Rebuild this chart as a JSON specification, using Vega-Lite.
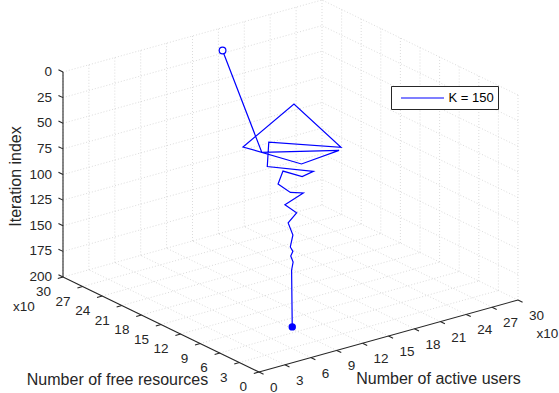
{
  "$schema": "https://vega.github.io/schema/vega-lite/v6.json",
  "width": 559,
  "height": 393,
  "autosize": {"type": "none"},
  "padding": 0,
  "background": "#ffffff",
  "config": {
    "view": {"stroke": null},
    "text": {"font": "Liberation Sans", "color": "#262626"}
  },
  "datasets": {
    "frame": [
      {"k": "grid", "u0": 0, "r0": 300, "i0": 0, "u1": 300, "r1": 300, "i1": 0},
      {"k": "grid", "u0": 0, "r0": 300, "i0": 25, "u1": 300, "r1": 300, "i1": 25},
      {"k": "grid", "u0": 0, "r0": 300, "i0": 50, "u1": 300, "r1": 300, "i1": 50},
      {"k": "grid", "u0": 0, "r0": 300, "i0": 75, "u1": 300, "r1": 300, "i1": 75},
      {"k": "grid", "u0": 0, "r0": 300, "i0": 100, "u1": 300, "r1": 300, "i1": 100},
      {"k": "grid", "u0": 0, "r0": 300, "i0": 125, "u1": 300, "r1": 300, "i1": 125},
      {"k": "grid", "u0": 0, "r0": 300, "i0": 150, "u1": 300, "r1": 300, "i1": 150},
      {"k": "grid", "u0": 0, "r0": 300, "i0": 175, "u1": 300, "r1": 300, "i1": 175},
      {"k": "grid", "u0": 0, "r0": 300, "i0": 200, "u1": 300, "r1": 300, "i1": 200},
      {"k": "grid", "u0": 0, "r0": 300, "i0": 0, "u1": 0, "r1": 300, "i1": 200},
      {"k": "grid", "u0": 30, "r0": 300, "i0": 0, "u1": 30, "r1": 300, "i1": 200},
      {"k": "grid", "u0": 60, "r0": 300, "i0": 0, "u1": 60, "r1": 300, "i1": 200},
      {"k": "grid", "u0": 90, "r0": 300, "i0": 0, "u1": 90, "r1": 300, "i1": 200},
      {"k": "grid", "u0": 120, "r0": 300, "i0": 0, "u1": 120, "r1": 300, "i1": 200},
      {"k": "grid", "u0": 150, "r0": 300, "i0": 0, "u1": 150, "r1": 300, "i1": 200},
      {"k": "grid", "u0": 180, "r0": 300, "i0": 0, "u1": 180, "r1": 300, "i1": 200},
      {"k": "grid", "u0": 210, "r0": 300, "i0": 0, "u1": 210, "r1": 300, "i1": 200},
      {"k": "grid", "u0": 240, "r0": 300, "i0": 0, "u1": 240, "r1": 300, "i1": 200},
      {"k": "grid", "u0": 270, "r0": 300, "i0": 0, "u1": 270, "r1": 300, "i1": 200},
      {"k": "grid", "u0": 300, "r0": 300, "i0": 0, "u1": 300, "r1": 300, "i1": 200},
      {"k": "grid", "u0": 300, "r0": 0, "i0": 0, "u1": 300, "r1": 300, "i1": 0},
      {"k": "grid", "u0": 300, "r0": 0, "i0": 25, "u1": 300, "r1": 300, "i1": 25},
      {"k": "grid", "u0": 300, "r0": 0, "i0": 50, "u1": 300, "r1": 300, "i1": 50},
      {"k": "grid", "u0": 300, "r0": 0, "i0": 75, "u1": 300, "r1": 300, "i1": 75},
      {"k": "grid", "u0": 300, "r0": 0, "i0": 100, "u1": 300, "r1": 300, "i1": 100},
      {"k": "grid", "u0": 300, "r0": 0, "i0": 125, "u1": 300, "r1": 300, "i1": 125},
      {"k": "grid", "u0": 300, "r0": 0, "i0": 150, "u1": 300, "r1": 300, "i1": 150},
      {"k": "grid", "u0": 300, "r0": 0, "i0": 175, "u1": 300, "r1": 300, "i1": 175},
      {"k": "grid", "u0": 300, "r0": 0, "i0": 200, "u1": 300, "r1": 300, "i1": 200},
      {"k": "grid", "u0": 300, "r0": 0, "i0": 0, "u1": 300, "r1": 0, "i1": 200},
      {"k": "grid", "u0": 300, "r0": 30, "i0": 0, "u1": 300, "r1": 30, "i1": 200},
      {"k": "grid", "u0": 300, "r0": 60, "i0": 0, "u1": 300, "r1": 60, "i1": 200},
      {"k": "grid", "u0": 300, "r0": 90, "i0": 0, "u1": 300, "r1": 90, "i1": 200},
      {"k": "grid", "u0": 300, "r0": 120, "i0": 0, "u1": 300, "r1": 120, "i1": 200},
      {"k": "grid", "u0": 300, "r0": 150, "i0": 0, "u1": 300, "r1": 150, "i1": 200},
      {"k": "grid", "u0": 300, "r0": 180, "i0": 0, "u1": 300, "r1": 180, "i1": 200},
      {"k": "grid", "u0": 300, "r0": 210, "i0": 0, "u1": 300, "r1": 210, "i1": 200},
      {"k": "grid", "u0": 300, "r0": 240, "i0": 0, "u1": 300, "r1": 240, "i1": 200},
      {"k": "grid", "u0": 300, "r0": 270, "i0": 0, "u1": 300, "r1": 270, "i1": 200},
      {"k": "grid", "u0": 0, "r0": 0, "i0": 200, "u1": 0, "r1": 300, "i1": 200},
      {"k": "grid", "u0": 30, "r0": 0, "i0": 200, "u1": 30, "r1": 300, "i1": 200},
      {"k": "grid", "u0": 60, "r0": 0, "i0": 200, "u1": 60, "r1": 300, "i1": 200},
      {"k": "grid", "u0": 90, "r0": 0, "i0": 200, "u1": 90, "r1": 300, "i1": 200},
      {"k": "grid", "u0": 120, "r0": 0, "i0": 200, "u1": 120, "r1": 300, "i1": 200},
      {"k": "grid", "u0": 150, "r0": 0, "i0": 200, "u1": 150, "r1": 300, "i1": 200},
      {"k": "grid", "u0": 180, "r0": 0, "i0": 200, "u1": 180, "r1": 300, "i1": 200},
      {"k": "grid", "u0": 210, "r0": 0, "i0": 200, "u1": 210, "r1": 300, "i1": 200},
      {"k": "grid", "u0": 240, "r0": 0, "i0": 200, "u1": 240, "r1": 300, "i1": 200},
      {"k": "grid", "u0": 270, "r0": 0, "i0": 200, "u1": 270, "r1": 300, "i1": 200},
      {"k": "grid", "u0": 0, "r0": 30, "i0": 200, "u1": 300, "r1": 30, "i1": 200},
      {"k": "grid", "u0": 0, "r0": 60, "i0": 200, "u1": 300, "r1": 60, "i1": 200},
      {"k": "grid", "u0": 0, "r0": 90, "i0": 200, "u1": 300, "r1": 90, "i1": 200},
      {"k": "grid", "u0": 0, "r0": 120, "i0": 200, "u1": 300, "r1": 120, "i1": 200},
      {"k": "grid", "u0": 0, "r0": 150, "i0": 200, "u1": 300, "r1": 150, "i1": 200},
      {"k": "grid", "u0": 0, "r0": 180, "i0": 200, "u1": 300, "r1": 180, "i1": 200},
      {"k": "grid", "u0": 0, "r0": 210, "i0": 200, "u1": 300, "r1": 210, "i1": 200},
      {"k": "grid", "u0": 0, "r0": 240, "i0": 200, "u1": 300, "r1": 240, "i1": 200},
      {"k": "grid", "u0": 0, "r0": 270, "i0": 200, "u1": 300, "r1": 270, "i1": 200},
      {"k": "axis", "u0": 0, "r0": 300, "i0": 0, "u1": 0, "r1": 300, "i1": 200},
      {"k": "axis", "u0": 0, "r0": 0, "i0": 200, "u1": 0, "r1": 300, "i1": 200},
      {"k": "axis", "u0": 0, "r0": 0, "i0": 200, "u1": 300, "r1": 0, "i1": 200},
      {"k": "tick", "u0": 0, "r0": 0, "i0": 200, "u1": 0, "r1": -7, "i1": 200},
      {"k": "tick", "u0": 30, "r0": 0, "i0": 200, "u1": 30, "r1": -7, "i1": 200},
      {"k": "tick", "u0": 60, "r0": 0, "i0": 200, "u1": 60, "r1": -7, "i1": 200},
      {"k": "tick", "u0": 90, "r0": 0, "i0": 200, "u1": 90, "r1": -7, "i1": 200},
      {"k": "tick", "u0": 120, "r0": 0, "i0": 200, "u1": 120, "r1": -7, "i1": 200},
      {"k": "tick", "u0": 150, "r0": 0, "i0": 200, "u1": 150, "r1": -7, "i1": 200},
      {"k": "tick", "u0": 180, "r0": 0, "i0": 200, "u1": 180, "r1": -7, "i1": 200},
      {"k": "tick", "u0": 210, "r0": 0, "i0": 200, "u1": 210, "r1": -7, "i1": 200},
      {"k": "tick", "u0": 240, "r0": 0, "i0": 200, "u1": 240, "r1": -7, "i1": 200},
      {"k": "tick", "u0": 270, "r0": 0, "i0": 200, "u1": 270, "r1": -7, "i1": 200},
      {"k": "tick", "u0": 300, "r0": 0, "i0": 200, "u1": 300, "r1": -7, "i1": 200},
      {"k": "tick", "u0": 0, "r0": 0, "i0": 200, "u1": -6, "r1": 0, "i1": 200},
      {"k": "tick", "u0": 0, "r0": 30, "i0": 200, "u1": -6, "r1": 30, "i1": 200},
      {"k": "tick", "u0": 0, "r0": 60, "i0": 200, "u1": -6, "r1": 60, "i1": 200},
      {"k": "tick", "u0": 0, "r0": 90, "i0": 200, "u1": -6, "r1": 90, "i1": 200},
      {"k": "tick", "u0": 0, "r0": 120, "i0": 200, "u1": -6, "r1": 120, "i1": 200},
      {"k": "tick", "u0": 0, "r0": 150, "i0": 200, "u1": -6, "r1": 150, "i1": 200},
      {"k": "tick", "u0": 0, "r0": 180, "i0": 200, "u1": -6, "r1": 180, "i1": 200},
      {"k": "tick", "u0": 0, "r0": 210, "i0": 200, "u1": -6, "r1": 210, "i1": 200},
      {"k": "tick", "u0": 0, "r0": 240, "i0": 200, "u1": -6, "r1": 240, "i1": 200},
      {"k": "tick", "u0": 0, "r0": 270, "i0": 200, "u1": -6, "r1": 270, "i1": 200},
      {"k": "tick", "u0": 0, "r0": 300, "i0": 200, "u1": -6, "r1": 300, "i1": 200},
      {"k": "tick", "u0": 0, "r0": 300, "i0": 0, "u1": 0, "r1": 307, "i1": 0},
      {"k": "tick", "u0": 0, "r0": 300, "i0": 25, "u1": 0, "r1": 307, "i1": 25},
      {"k": "tick", "u0": 0, "r0": 300, "i0": 50, "u1": 0, "r1": 307, "i1": 50},
      {"k": "tick", "u0": 0, "r0": 300, "i0": 75, "u1": 0, "r1": 307, "i1": 75},
      {"k": "tick", "u0": 0, "r0": 300, "i0": 100, "u1": 0, "r1": 307, "i1": 100},
      {"k": "tick", "u0": 0, "r0": 300, "i0": 125, "u1": 0, "r1": 307, "i1": 125},
      {"k": "tick", "u0": 0, "r0": 300, "i0": 150, "u1": 0, "r1": 307, "i1": 150},
      {"k": "tick", "u0": 0, "r0": 300, "i0": 175, "u1": 0, "r1": 307, "i1": 175},
      {"k": "tick", "u0": 0, "r0": 300, "i0": 200, "u1": 0, "r1": 307, "i1": 200}
    ],
    "labels": [
      {"k": "uTick", "u": 0, "r": 0, "i": 200, "t": "0"},
      {"k": "uTick", "u": 30, "r": 0, "i": 200, "t": "3"},
      {"k": "uTick", "u": 60, "r": 0, "i": 200, "t": "6"},
      {"k": "uTick", "u": 90, "r": 0, "i": 200, "t": "9"},
      {"k": "uTick", "u": 120, "r": 0, "i": 200, "t": "12"},
      {"k": "uTick", "u": 150, "r": 0, "i": 200, "t": "15"},
      {"k": "uTick", "u": 180, "r": 0, "i": 200, "t": "18"},
      {"k": "uTick", "u": 210, "r": 0, "i": 200, "t": "21"},
      {"k": "uTick", "u": 240, "r": 0, "i": 200, "t": "24"},
      {"k": "uTick", "u": 270, "r": 0, "i": 200, "t": "27"},
      {"k": "uTick", "u": 300, "r": 0, "i": 200, "t": "30"},
      {"k": "rTick", "u": 0, "r": 0, "i": 200, "t": "0"},
      {"k": "rTick", "u": 0, "r": 30, "i": 200, "t": "3"},
      {"k": "rTick", "u": 0, "r": 60, "i": 200, "t": "6"},
      {"k": "rTick", "u": 0, "r": 90, "i": 200, "t": "9"},
      {"k": "rTick", "u": 0, "r": 120, "i": 200, "t": "12"},
      {"k": "rTick", "u": 0, "r": 150, "i": 200, "t": "15"},
      {"k": "rTick", "u": 0, "r": 180, "i": 200, "t": "18"},
      {"k": "rTick", "u": 0, "r": 210, "i": 200, "t": "21"},
      {"k": "rTick", "u": 0, "r": 240, "i": 200, "t": "24"},
      {"k": "rTick", "u": 0, "r": 270, "i": 200, "t": "27"},
      {"k": "rTick", "u": 0, "r": 300, "i": 200, "t": "30"},
      {"k": "iTick", "u": 0, "r": 300, "i": 0, "t": "0"},
      {"k": "iTick", "u": 0, "r": 300, "i": 25, "t": "25"},
      {"k": "iTick", "u": 0, "r": 300, "i": 50, "t": "50"},
      {"k": "iTick", "u": 0, "r": 300, "i": 75, "t": "75"},
      {"k": "iTick", "u": 0, "r": 300, "i": 100, "t": "100"},
      {"k": "iTick", "u": 0, "r": 300, "i": 125, "t": "125"},
      {"k": "iTick", "u": 0, "r": 300, "i": 150, "t": "150"},
      {"k": "iTick", "u": 0, "r": 300, "i": 175, "t": "175"},
      {"k": "iTick", "u": 0, "r": 300, "i": 200, "t": "200"},
      {"k": "uExp", "u": 300, "r": 0, "i": 200, "t": "x10"},
      {"k": "rExp", "u": 0, "r": 300, "i": 200, "t": "x10"},
      {"k": "uTitle", "u": 150, "r": 0, "i": 200, "t": "Number of active users"},
      {"k": "rTitle", "u": 0, "r": 150, "i": 200, "t": "Number of free resources"},
      {"k": "iTitle", "u": 0, "r": 300, "i": 100, "t": "Iteration index"}
    ],
    "trajectory": [
      {"iteration": 0, "users": 150, "resources": 254},
      {"iteration": 3, "users": 29, "resources": 34},
      {"iteration": 7, "users": 95, "resources": 3},
      {"iteration": 11, "users": 53, "resources": 5},
      {"iteration": 15, "users": 42, "resources": 80},
      {"iteration": 19, "users": 151, "resources": 146},
      {"iteration": 23, "users": 126, "resources": 41},
      {"iteration": 27, "users": 87, "resources": 100},
      {"iteration": 31, "users": 55, "resources": 60},
      {"iteration": 35, "users": 88, "resources": 33},
      {"iteration": 39, "users": 78, "resources": 37},
      {"iteration": 44, "users": 80, "resources": 69},
      {"iteration": 52, "users": 69, "resources": 62},
      {"iteration": 62, "users": 81, "resources": 59},
      {"iteration": 68, "users": 99, "resources": 63},
      {"iteration": 78, "users": 83, "resources": 70},
      {"iteration": 88, "users": 95, "resources": 68},
      {"iteration": 98, "users": 89, "resources": 73},
      {"iteration": 110, "users": 93, "resources": 71},
      {"iteration": 121, "users": 90, "resources": 71},
      {"iteration": 126, "users": 93, "resources": 71},
      {"iteration": 131, "users": 92, "resources": 73},
      {"iteration": 137, "users": 94, "resources": 72},
      {"iteration": 145, "users": 93, "resources": 73},
      {"iteration": 200, "users": 93, "resources": 72}
    ]
  },
  "layer": [
    {
      "data": {"name": "frame"},
      "transform": [
        {"calculate": "(datum.u0 * 259 - datum.r0 * 196) / 300", "as": "px"},
        {"calculate": "(datum.u0 * 72 + datum.r0 * 95) / 300 + (200 - datum.i0) * 1.025", "as": "py"},
        {"calculate": "(datum.u1 * 259 - datum.r1 * 196) / 300", "as": "qx"},
        {"calculate": "(datum.u1 * 72 + datum.r1 * 95) / 300 + (200 - datum.i1) * 1.025", "as": "qy"}
      ],
      "encoding": {
        "x": {"field": "px", "type": "quantitative", "scale": {"domain": [-259, 300], "nice": false, "zero": false}, "axis": null},
        "y": {"field": "py", "type": "quantitative", "scale": {"domain": [-21, 372], "nice": false, "zero": false}, "axis": null},
        "x2": {"field": "qx"},
        "y2": {"field": "qy"}
      },
      "layer": [
        {
          "transform": [{"filter": "datum.k === 'grid'"}],
          "mark": {"type": "rule", "stroke": "#d2d2d2", "strokeWidth": 0.8, "strokeDash": [1, 2]}
        },
        {
          "transform": [{"filter": "datum.k !== 'grid'"}],
          "mark": {"type": "rule", "stroke": "#262626", "strokeWidth": 1.1}
        }
      ]
    },
    {
      "data": {"name": "labels"},
      "transform": [
        {"calculate": "(datum.u * 259 - datum.r * 196) / 300", "as": "px"},
        {"calculate": "(datum.u * 72 + datum.r * 95) / 300 + (200 - datum.i) * 1.025", "as": "py"}
      ],
      "encoding": {
        "x": {"field": "px", "type": "quantitative", "scale": {"domain": [-259, 300], "nice": false, "zero": false}, "axis": null},
        "y": {"field": "py", "type": "quantitative", "scale": {"domain": [-21, 372], "nice": false, "zero": false}, "axis": null},
        "text": {"field": "t"}
      },
      "layer": [
        {
          "transform": [{"filter": "datum.k === 'uTick'"}],
          "mark": {"type": "text", "align": "left", "baseline": "middle", "dx": 11, "dy": 16, "fontSize": 13.5}
        },
        {
          "transform": [{"filter": "datum.k === 'rTick'"}],
          "mark": {"type": "text", "align": "right", "baseline": "middle", "dx": -12, "dy": 15, "fontSize": 13.5}
        },
        {
          "transform": [{"filter": "datum.k === 'iTick'"}],
          "mark": {"type": "text", "align": "right", "baseline": "middle", "dx": -11, "dy": 0, "fontSize": 13.5}
        },
        {
          "transform": [{"filter": "datum.k === 'uExp'"}],
          "mark": {"type": "text", "align": "center", "baseline": "middle", "dx": 29.5, "dy": 34, "fontSize": 13.5}
        },
        {
          "transform": [{"filter": "datum.k === 'rExp'"}],
          "mark": {"type": "text", "align": "center", "baseline": "middle", "dx": -39, "dy": 30, "fontSize": 13.5}
        },
        {
          "transform": [{"filter": "datum.k === 'uTitle'"}],
          "mark": {"type": "text", "align": "center", "baseline": "middle", "dx": 50, "dy": 42.5, "fontSize": 16}
        },
        {
          "transform": [{"filter": "datum.k === 'rTitle'"}],
          "mark": {"type": "text", "align": "center", "baseline": "middle", "dx": -43.5, "dy": 55.5, "fontSize": 16}
        },
        {
          "transform": [{"filter": "datum.k === 'iTitle'"}],
          "mark": {"type": "text", "align": "center", "baseline": "middle", "angle": 270, "dx": -2, "dy": -47, "fontSize": 16}
        }
      ]
    },
    {
      "data": {"name": "trajectory"},
      "transform": [
        {"calculate": "(datum.users * 259 - datum.resources * 196) / 300", "as": "px"},
        {"calculate": "(datum.users * 72 + datum.resources * 95) / 300 + (200 - datum.iteration) * 1.025", "as": "py"}
      ],
      "encoding": {
        "x": {"field": "px", "type": "quantitative", "scale": {"domain": [-259, 300], "nice": false, "zero": false}, "axis": null},
        "y": {"field": "py", "type": "quantitative", "scale": {"domain": [-21, 372], "nice": false, "zero": false}, "axis": null}
      },
      "layer": [
        {
          "mark": {"type": "line", "strokeWidth": 1.2},
          "encoding": {
            "order": {"field": "iteration", "type": "quantitative"},
            "color": {
              "datum": "K = 150",
              "type": "nominal",
              "scale": {"range": ["#0000ff"]},
              "legend": {
                "orient": "none",
                "legendX": 391,
                "legendY": 86,
                "title": null,
                "symbolType": "M-3.07,0H3.07",
                "symbolSize": 196,
                "symbolStrokeWidth": 1.2,
                "symbolStrokeColor": "#0000ff",
                "symbolOffset": 19.5,
                "labelFont": "Liberation Sans",
                "labelFontSize": 13,
                "labelColor": "#000000",
                "labelOffset": 18,
                "padding": 4,
                "strokeColor": "#262626",
                "fillColor": "#ffffff",
                "cornerRadius": 0
              }
            }
          }
        },
        {
          "transform": [{"filter": "datum.iteration === 0"}],
          "mark": {"type": "point", "shape": "circle", "filled": false, "fill": "#ffffff", "stroke": "#0000ff", "strokeWidth": 1.2, "size": 45, "opacity": 1}
        },
        {
          "transform": [{"filter": "datum.iteration === 200"}],
          "mark": {"type": "point", "shape": "circle", "filled": true, "color": "#0000ff", "size": 55, "opacity": 1}
        }
      ]
    }
  ]
}
